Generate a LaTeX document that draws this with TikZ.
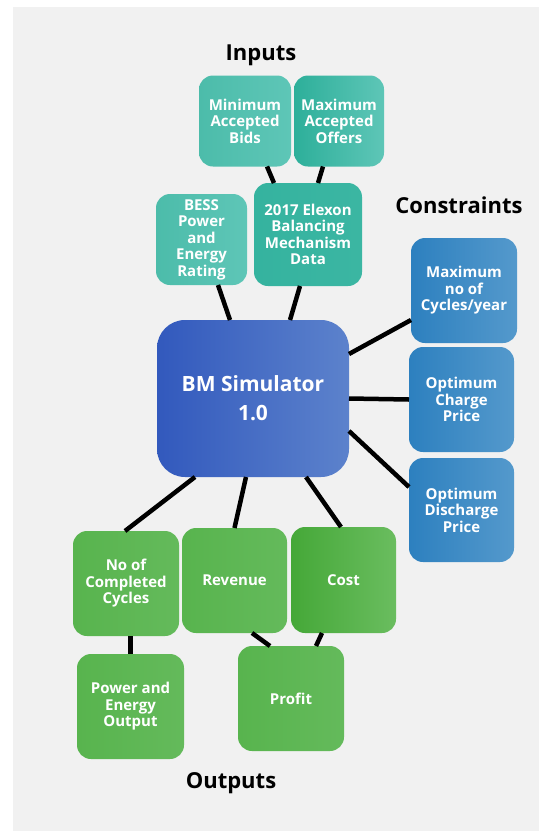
\documentclass[tikz,border=0pt]{standalone}
\usepackage{fontspec}
\setmainfont{Open Sans}
\definecolor{bggray}{HTML}{F1F1F1}
\definecolor{tealleft}{HTML}{4CBCAA}
\definecolor{tealright}{HTML}{5EC6B7}
\definecolor{tealdark}{HTML}{2DAF9A}
\definecolor{tealmid}{HTML}{35B39F}
\definecolor{coreleft}{HTML}{3259BD}
\definecolor{coreright}{HTML}{5C82CC}
\definecolor{limleft}{HTML}{2D80BF}
\definecolor{limright}{HTML}{5499CC}
\definecolor{outleft}{HTML}{58B44E}
\definecolor{outright}{HTML}{64BA5B}
\definecolor{costleft}{HTML}{45A838}
\definecolor{costright}{HTML}{6ABD5F}
\tikzset{
  box/.style={rounded corners=14pt, minimum width=105pt, minimum height=105pt,
    inner sep=2pt, outer sep=0pt, align=center, text=white,
    font=\fontsize{15}{16.5}\selectfont\bfseries},
  inbox/.style={box, left color=tealleft, right color=tealright},
  limbox/.style={box, left color=limleft, right color=limright},
  outbox/.style={box, left color=outleft, right color=outright},
  core/.style={box, rounded corners=28pt, minimum width=192pt, minimum height=157pt,
    left color=coreleft, right color=coreright, font=\fontsize{21}{29}\selectfont\bfseries},
  link/.style={draw=black, line width=4.5pt},
  heading/.style={anchor=base, font=\fontsize{22}{25}\selectfont\bfseries}
}

\begin{document}
\begin{tikzpicture}[x=1pt,y=-1pt]
  \useasboundingbox (0,0) rectangle (539,831);
  \fill[bggray] (13,7) rectangle (539,831);

  % headings
  \node[heading] (inputs) at (261,60) {Inputs};
  \node[heading] (constraints) at (459,213) {Constraints};
  \node[heading] (outputs) at (231,788) {Outputs};

  % inputs
  \node[inbox, minimum width=92pt, minimum height=91pt] (minb) at (245,121) {Minimum\\Accepted\\Bids};
  \node[inbox, minimum width=90pt, minimum height=91pt, left color=tealdark] (maxo) at (339,121) {Maximum\\Accepted\\Offers};
  \node[inbox, minimum width=91pt, minimum height=91pt] (bess) at (201.5,239.5) {BESS\\Power\\and\\Energy\\Rating};
  \node[inbox, minimum width=108pt, minimum height=103pt, left color=tealmid, right color=tealmid!85!tealright] (elexon) at (308,234.5) {2017 Elexon\\Balancing\\Mechanism\\Data};

  % simulator
  \node[core] (bm) at (253,398.5) {BM Simulator\\1.0};

  % constraints
  \node[limbox, minimum width=106pt] (maxcyc) at (464,290.5) {Maximum\\no of\\Cycles/year};
  \node[limbox] (charge) at (461.5,399.5) {Optimum\\Charge\\Price};
  \node[limbox, minimum height=104pt] (discharge) at (461.5,510) {Optimum\\Discharge\\Price};

  % outputs
  \node[outbox, minimum width=106pt] (cycles) at (126,583.5) {No of\\Completed\\Cycles};
  \node[outbox] (revenue) at (234.5,580.5) {Revenue};
  \node[outbox, minimum height=106pt, left color=costleft, right color=costright] (cost) at (343.5,580) {Cost};
  \node[outbox, minimum width=107pt] (power) at (130.5,706.5) {Power and\\Energy\\Output};
  \node[outbox, minimum width=106pt] (profit) at (291,698.5) {Profit};

  % links
  \draw[link] ([xshift=22pt]minb.south) -- ([xshift=-34pt]elexon.north);
  \draw[link] ([xshift=-16pt]maxo.south) -- ([xshift=10pt]elexon.north);
  \draw[link] ([xshift=16.5pt]bess.south) -- ([xshift=-23pt]bm.north);
  \draw[link] ([xshift=-8pt]elexon.south) -- ([xshift=37pt]bm.north);
  \draw[link] ([yshift=44.5pt]bm.east) -- ([yshift=-29.5pt]maxcyc.west);
  \draw[link] (bm.east) -- (charge.west);
  \draw[link] ([yshift=-32.5pt]bm.east) -- ([yshift=23pt]discharge.west);
  \draw[link] ([xshift=-58pt]bm.south) -- ([xshift=-1pt]cycles.north);
  \draw[link] ([xshift=-7pt]bm.south) -- (revenue.north);
  \draw[link] ([xshift=53pt]bm.south) -- ([xshift=-2.5pt]cost.north);
  \draw[link] ([xshift=17.5pt]revenue.south) -- ([xshift=-21pt]profit.north);
  \draw[link] ([xshift=-21.5pt]cost.south) -- ([xshift=25pt]profit.north);
  \draw[link] (cycles.south -| power.north) -- (power.north);
\end{tikzpicture}
\end{document}
